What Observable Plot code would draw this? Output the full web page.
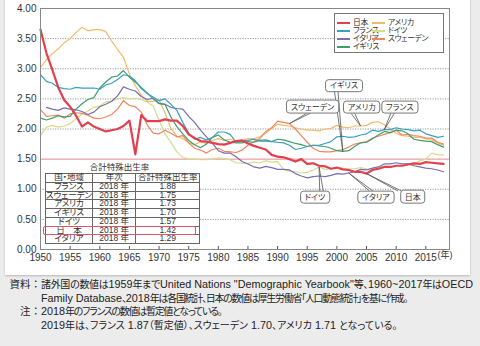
<!DOCTYPE html>
<html><head><meta charset="utf-8">
<script src="https://cdn.jsdelivr.net/npm/d3@7"></script>
<script src="https://cdn.jsdelivr.net/npm/@observablehq/plot@0.6"></script>
<style>
body{margin:0;background:#ececec;width:480px;height:346px;overflow:hidden;position:relative;
 font-family:"Liberation Sans","Noto Sans CJK JP",sans-serif;color:#333;font-feature-settings:"palt";}
#panel{position:absolute;left:5px;top:-2px;width:465px;height:277px;background:#fff;box-shadow:0 1px 2px #b8b8b8;}
#chart{position:absolute;left:0;top:0;}
#chart svg text{font-feature-settings:"palt";}
#legend{position:absolute;left:334px;top:13px;width:108px;height:38px;border:1px solid #777;background:#fff;font-size:7.8px;letter-spacing:-0.4px;}
.li{position:absolute;height:8px;line-height:8px;white-space:nowrap;}
.sw{position:absolute;height:2px;}
#ttitle{position:absolute;left:45px;width:149px;top:162px;text-align:center;font-size:8.5px;line-height:10px;}
#tbl{position:absolute;left:45px;top:173px;border-collapse:collapse;background:#fff;font-size:8.5px;}
#tbl td{border:1px solid #666;height:7.75px;line-height:7.75px;padding:0;text-align:center;white-space:nowrap;}
#hl{position:absolute;left:43px;top:226px;width:151px;height:7px;border:1.5px solid #e0566a;border-radius:2px;}
.note{position:absolute;line-height:12px;white-space:nowrap;color:#222;}
.note .cjk{font-size:10px;}
.note .lat{font-size:10.8px;}
.note.lab .cjk{font-size:10.5px;font-feature-settings:normal;}
</style></head>
<body>
<div id="panel"></div>
<div id="chart"></div>
<div id="legend"></div>
<div id="ttitle"></div>
<table id="tbl"></table>
<div id="hl"></div>
<div id="notes"></div>
<script>
// ---- data ----
const firstYear = 1950;
const countries = ["日本","フランス","イタリア","イギリス","アメリカ","ドイツ","スウェーデン"];
const colors = ["#e3404f","#3a9fc2","#7a6db3","#3f9f6b","#f2bb6b","#d5dc8e","#f08660"];

const japan = [3.65,3.26,2.98,2.69,2.48,2.37,2.22,2.04,2.11,2.04,
 2.00,1.96,1.98,2.00,2.05,2.14,1.58,2.23,2.13,2.13,
 2.13,2.16,2.14,2.14,2.05,1.91,1.85,1.80,1.79,1.77,
 1.75,1.74,1.77,1.80,1.81,1.76,1.72,1.69,1.66,1.57,
 1.54,1.53,1.50,1.46,1.50,1.42,1.43,1.39,1.38,1.34,
 1.36,1.33,1.32,1.29,1.29,1.26,1.32,1.34,1.37,1.37,
 1.39,1.39,1.41,1.43,1.42,1.45,1.44,1.43,1.42];
const france = [2.90,2.79,2.76,2.69,2.67,2.66,2.69,2.68,2.68,2.68,
 2.66,2.73,2.76,2.82,2.90,2.88,2.80,2.67,2.59,2.53,
 2.47,2.50,2.41,2.31,2.11,1.93,1.83,1.86,1.82,1.86,
 1.95,1.95,1.91,1.78,1.80,1.81,1.83,1.80,1.80,1.79,
 1.78,1.77,1.73,1.66,1.68,1.71,1.73,1.73,1.76,1.79,
 1.87,1.88,1.86,1.87,1.90,1.92,1.98,1.96,1.99,1.99,
 2.02,2.00,1.99,1.97,1.98,1.92,1.89,1.86,1.88];
const italy = [null,2.36,2.33,2.31,2.35,2.33,2.32,2.29,2.24,2.28,
 2.37,2.41,2.46,2.55,2.70,2.66,2.63,2.54,2.49,2.51,
 2.42,2.41,2.36,2.34,2.33,2.21,2.11,1.98,1.87,1.76,
 1.64,1.60,1.60,1.54,1.46,1.42,1.37,1.35,1.38,1.36,
 1.33,1.33,1.32,1.26,1.22,1.19,1.21,1.22,1.21,1.23,
 1.26,1.25,1.27,1.29,1.33,1.32,1.35,1.37,1.42,1.42,
 1.44,1.42,1.42,1.39,1.37,1.35,1.34,1.32,1.29];
const uk = [2.18,2.15,2.18,2.22,2.20,2.21,2.33,2.42,2.49,2.52,
 2.68,2.78,2.86,2.88,2.97,2.86,2.78,2.69,2.60,2.50,
 2.43,2.41,2.20,2.04,1.92,1.81,1.74,1.69,1.75,1.86,
 1.90,1.82,1.78,1.77,1.77,1.79,1.78,1.81,1.82,1.79,
 1.83,1.82,1.79,1.76,1.74,1.71,1.73,1.72,1.71,1.68,
 1.64,1.63,1.64,1.71,1.77,1.78,1.84,1.90,1.96,1.94,
 1.98,1.97,1.92,1.83,1.81,1.80,1.79,1.74,1.70];
const usa = [3.02,3.15,3.25,3.33,3.43,3.50,3.60,3.69,3.63,3.65,
 3.65,3.62,3.46,3.32,3.19,2.91,2.72,2.56,2.46,2.46,
 2.48,2.27,2.01,1.88,1.84,1.77,1.74,1.79,1.76,1.81,
 1.84,1.81,1.83,1.80,1.81,1.84,1.84,1.87,1.93,2.01,
 2.08,2.06,2.05,2.02,2.00,1.98,1.98,1.97,2.00,2.01,
 2.06,2.03,2.02,2.05,2.05,2.06,2.11,2.12,2.07,2.00,
 1.93,1.89,1.88,1.86,1.86,1.84,1.82,1.77,1.73];
const germany = [1.89,2.03,2.06,2.03,2.05,2.09,2.17,2.25,2.30,2.36,
 2.38,2.45,2.46,2.50,2.52,2.50,2.51,2.49,2.45,2.38,
 2.15,1.92,1.78,1.62,1.53,1.50,1.50,1.49,1.49,1.50,
 1.52,1.51,1.49,1.44,1.43,1.43,1.45,1.44,1.47,1.45,
 1.46,1.33,1.30,1.29,1.27,1.28,1.32,1.37,1.33,1.34,
 1.36,1.35,1.34,1.34,1.36,1.34,1.33,1.37,1.38,1.36,
 1.39,1.39,1.41,1.42,1.47,1.50,1.60,1.57,1.57];
const sweden = [2.32,2.21,2.22,2.23,2.18,2.25,2.27,2.26,2.23,2.18,
 2.17,2.20,2.24,2.33,2.47,2.39,2.37,2.28,2.07,1.93,
 1.92,1.98,1.93,1.87,1.89,1.77,1.68,1.65,1.60,1.66,
 1.68,1.63,1.62,1.61,1.65,1.73,1.79,1.84,1.96,2.02,
 2.13,2.11,2.09,2.00,1.89,1.78,1.68,1.63,1.62,1.62,
 1.64,1.66,1.70,1.75,1.77,1.79,1.85,1.88,1.91,1.94,
 1.98,1.90,1.91,1.89,1.88,1.85,1.85,1.78,1.75];
const seriesValues = [japan, france, italy, uk, usa, germany, sweden];

const xTicks = [1950,1955,1960,1965,1970,1975,1980,1985,1990,1995,2000,2005,2010,2015];
const yTicks = [0,0.5,1,1.5,2,2.5,3,3.5,4];
const gridValues = [0.5,1,2,2.5,3,3.5];
const refValue = 1.5;
const xUnit = "(年)";

// callouts (label anchor in data coords, target country/year)
const calloutLabels = ["スウェーデン","イギリス","アメリカ","フランス","ドイツ","イタリア","日本"];
const calloutCountry = ["スウェーデン","イギリス","アメリカ","フランス","ドイツ","イタリア","日本"];
const calloutYear = [1992,2001,2004,2008,1997,2002,2005];
const calloutX = [1995.9,2001.2,2004.2,2010.6,1996.3,2006.6,2012.8];
const calloutY = [2.365,2.72,2.365,2.365,0.87,0.87,0.87];
const calloutBaseX = [1995.2,1999.9,2002.7,2009.4,1997.4,2005.8,2010.6];
const calloutBaseY = [2.26,2.62,2.26,2.26,0.97,0.97,0.97];

// inset table
const tableTitle = "合計特殊出生率";
const tableHeader = ["国・地域","年次","合計特殊出生率"];
const tableCountries = ["フランス","スウェーデン","アメリカ","イギリス","ドイツ","日　本","イタリア"];
const tableYears = ["2018 年","2018 年","2018 年","2018 年","2018 年","2018 年","2018 年"];
const tableValues = ["1.88","1.75","1.73","1.70","1.57","1.42","1.29"];

const notes = [
 ["資料：","諸外国の数値は1959年までUnited Nations \"Demographic Yearbook\"等、1960~2017年はOECD"],
 ["","Family Database、2018年は各国統計、日本の数値は厚生労働省「人口動態統計」を基に作成。"],
 ["注：","2018年のフランスの数値は暫定値となっている。"],
 ["","2019年は、フランス 1.87（暫定値）、スウェーデン 1.70、アメリカ 1.71 となっている。"]
];
const noteEnds = [473, 407, 218, 423];

// ---- build ----
const rows = [];
countries.forEach((c, k) => seriesValues[k].forEach((v, i) => { if (v != null) rows.push({country: c, year: firstYear + i, value: v}); }));
const valueOf = (c, y) => seriesValues[countries.indexOf(c)][y - firstYear];
const callouts = calloutLabels.map((t, i) => ({
  text: t, x: calloutX[i], y: calloutY[i], bx: calloutBaseX[i], by: calloutBaseY[i],
  tx: calloutYear[i], ty: valueOf(calloutCountry[i], calloutYear[i])
}));

const drawOrder = ["ドイツ","アメリカ","スウェーデン","イタリア","イギリス","フランス","日本"];
const lineMarks = drawOrder.map(c => {
  const k = countries.indexOf(c);
  return Plot.line(rows.filter(d => d.country === c), {x: "year", y: "value", stroke: colors[k], strokeWidth: c === "日本" ? 2.2 : 1.2});
});

const jpFont = "'Liberation Sans','Noto Sans CJK JP',sans-serif";
const plot = Plot.plot({
  width: 480, height: 275,
  marginLeft: 40, marginRight: 31, marginTop: 8, marginBottom: 26,
  style: {background: "transparent", fontFamily: jpFont, fontSize: "10px", color: "#333", overflow: "visible"},
  x: {domain: [1950, 2019], ticks: xTicks, tickFormat: d => String(d), tickSize: 0, tickPadding: 4, label: null},
  y: {domain: [0, 4], ticks: yTicks, tickFormat: d => d.toFixed(2), tickSize: 0, tickPadding: 4, label: null},
  marks: [
    Plot.ruleY(gridValues, {stroke: "#999", strokeDasharray: "1.2,1.3", strokeWidth: 1}),
    Plot.ruleY([refValue], {stroke: "#e8888e", strokeWidth: 1}),
    Plot.ruleX(xTicks, {y1: 0, y2: 0.05, stroke: "#555"}),
    ...lineMarks,
    Plot.frame({stroke: "#888"}),
    Plot.link(callouts, {x1: d => d.bx - 0.3, y1: "by", x2: "tx", y2: "ty", stroke: "#555", strokeWidth: 0.8}),
    Plot.link(callouts, {x1: d => d.bx + 0.3, y1: "by", x2: "tx", y2: "ty", stroke: "#555", strokeWidth: 0.8}),
    Plot.text(callouts, {x: "x", y: "y", text: "text", fontSize: 8, fill: "#333", fontFamily: jpFont}),
    Plot.text([xUnit], {frameAnchor: "bottom-right", dx: 3, dy: 8, text: d => d, fontSize: 9, fill: "#333"})
  ]
});
document.getElementById("chart").append(plot);

// rounded boxes behind callout texts
const labelSet = new Set(calloutLabels);
d3.select(plot).selectAll("text").filter(function(){ return labelSet.has(this.textContent); }).each(function(){
  const b = this.getBBox();
  const r = document.createElementNS("http://www.w3.org/2000/svg", "rect");
  r.setAttribute("x", b.x - 4); r.setAttribute("y", b.y - 1.5);
  r.setAttribute("width", b.width + 8); r.setAttribute("height", b.height + 3);
  r.setAttribute("rx", 3); r.setAttribute("fill", "#fff"); r.setAttribute("stroke", "#777"); r.setAttribute("stroke-width", 1);
  if (this.getAttribute("transform")) r.setAttribute("transform", this.getAttribute("transform"));
  this.parentNode.insertBefore(r, this);
});

// legend
const legend = document.getElementById("legend");
const legCols = [[2, 18], [37, 53]];
const legTops = [5, 13, 21, 29];
countries.forEach((c, k) => {
  const col = k < 4 ? 0 : 1, row = k < 4 ? k : k - 4;
  const sw = document.createElement("div");
  sw.className = "sw"; sw.style.background = colors[k];
  sw.style.left = legCols[col][0] + "px"; sw.style.width = "13px"; sw.style.top = (legTops[row] + 3) + "px";
  const t = document.createElement("div");
  t.className = "li"; t.textContent = c;
  t.style.left = legCols[col][1] + "px"; t.style.top = legTops[row] + "px";
  legend.append(sw, t);
});

// table
document.getElementById("ttitle").textContent = tableTitle;
const tbl = document.getElementById("tbl");
const colW = [43, 42, 63];
const mkRow = cells => { const tr = document.createElement("tr"); cells.forEach((t, j) => { const td = document.createElement("td"); td.style.width = colW[j] + "px"; td.textContent = t; tr.append(td); }); tbl.append(tr); };
mkRow(tableHeader);
tableCountries.forEach((c, i) => mkRow([c, tableYears[i], tableValues[i]]));

// notes
const notesDiv = document.getElementById("notes");
const noteTops = [277, 290.5, 304, 317.5];
notes.forEach((n, i) => {
  if (n[0]) { const l = document.createElement("div"); l.className = "note lab"; l.innerHTML = `<span class="cjk">${n[0]}</span>`; l.style.top = noteTops[i] + "px"; l.style.right = (480 - 41) + "px"; notesDiv.append(l); }
  const t = document.createElement("div"); t.className = "note"; t.style.top = noteTops[i] + "px"; t.style.left = "41px";
  const runs = n[1].match(/[\x20-\x7E]+|[^\x20-\x7E]+/g);
  runs.forEach(r => { const s = document.createElement("span"); s.className = /[\x20-\x7E]/.test(r[0]) ? "lat" : "cjk"; s.textContent = r; t.append(s); });
  notesDiv.append(t);
  const cj = [...t.querySelectorAll(".cjk")];
  const nChars = cj.reduce((a, s) => a + s.textContent.length, 0);
  const w0 = t.getBoundingClientRect().width;
  const ls = Math.max(-1.3, Math.min(0, (noteEnds[i] - 41 - w0) / nChars));
  cj.forEach(s => s.style.letterSpacing = ls + "px");
});
</script>
</body></html>
